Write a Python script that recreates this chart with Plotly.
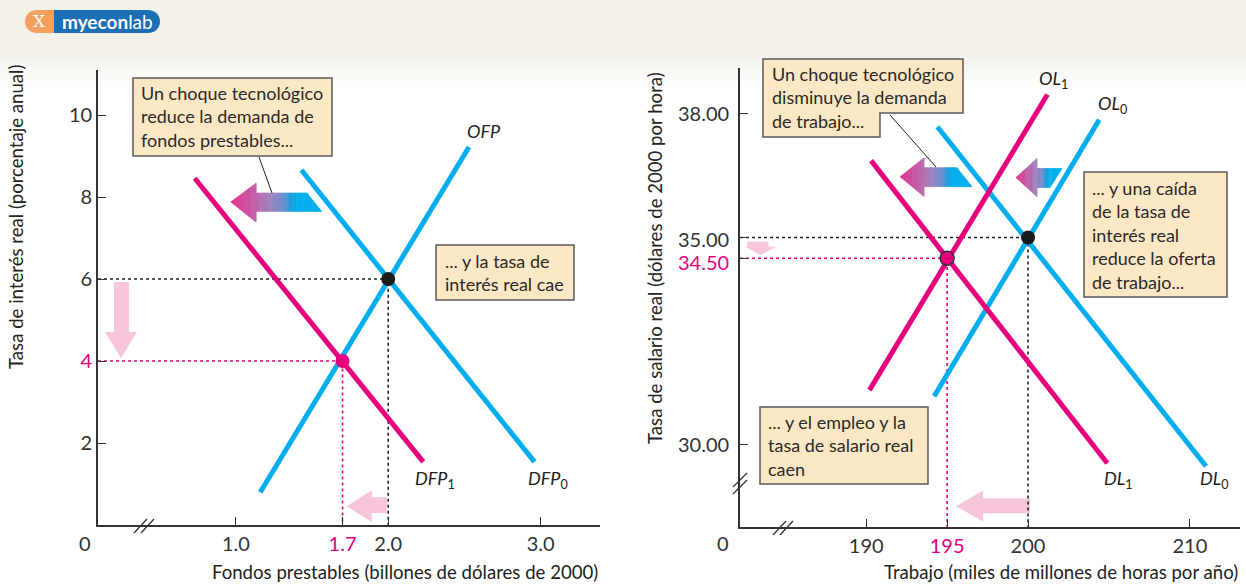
import plotly.graph_objects as go

W, H = 1246, 585
PINK = '#e6007e'
CYAN = '#00aeef'
PALE = '#f7c6dc'
INK = '#333333'
BOXFILL = '#fde8c5'
BOXLINE = '#5a5a5a'
FONT = 'Lato'

# ---------------- data: loanable funds market (left) ----------------
dfp0_x = [1.43, 2.96]; dfp0_y = [8.66, 1.54]
dfp1_x = [0.73, 2.23]; dfp1_y = [8.46, 1.54]
ofp_x = [1.16, 2.53];  ofp_y = [0.80, 9.22]
eq0_left = (2.0, 6.0)
eq1_left = (1.7, 4.0)
left_xtick_vals = [1.0, 1.7, 2.0, 3.0]
left_xtick_text = ['1.0', '1.7', '2.0', '3.0']
left_ytick_vals = [2, 4, 6, 8, 10]
left_ytick_text = ['2', '4', '6', '8', '10']
left_xrange = [0.095, 3.39]
left_yrange = [0, 11.1]

# ---------------- data: labour market (right) ----------------
dl0_x = [194.4, 211.0]; dl0_y = [37.68, 29.47]
dl1_x = [190.3, 204.9]; dl1_y = [36.86, 29.54]
ol0_x = [194.2, 204.4]; ol0_y = [31.16, 37.85]
ol1_x = [190.2, 201.2]; ol1_y = [31.31, 38.46]
eq0_right = (200, 35.0)
eq1_right = (195, 34.5)
right_xtick_vals = [190, 195, 200, 210]
right_xtick_text = ['190', '195', '200', '210']
right_ytick_vals = [30, 34.5, 35, 38]
right_ytick_text = ['30.00', '34.50', '35.00', '38.00']
right_xrange = [182.2, 213.1]
right_yrange = [28.0, 39.1]


def px(x):
    return x / W


def py(y):
    return 1 - y / H


def pink_txt(s):
    return "<span style='color:%s'>%s</span>" % (PINK, s)


fig = go.Figure()


def line(xs, ys, color, ax, width=5, dash=None):
    fig.add_trace(go.Scatter(x=xs, y=ys, mode='lines', xaxis=ax[0], yaxis=ax[1],
                             line=dict(color=color, width=width, dash=dash),
                             hoverinfo='skip', showlegend=False))


L = ('x', 'y')
R = ('x2', 'y2')

# dotted guide lines
line([left_xrange[0], eq0_left[0], eq0_left[0]], [eq0_left[1], eq0_left[1], left_yrange[0]], '#222', L, 1.6, 'dot')
line([left_xrange[0], eq1_left[0], eq1_left[0]], [eq1_left[1], eq1_left[1], left_yrange[0]], PINK, L, 1.6, 'dot')
line([right_xrange[0], eq0_right[0], eq0_right[0]], [eq0_right[1], eq0_right[1], right_yrange[0]], '#222', R, 1.6, 'dot')
line([right_xrange[0], eq1_right[0], eq1_right[0]], [eq1_right[1], eq1_right[1], right_yrange[0]], PINK, R, 1.6, 'dot')

# curves
line(dfp0_x, dfp0_y, CYAN, L)
line(ofp_x, ofp_y, CYAN, L)
line(dfp1_x, dfp1_y, PINK, L)
line(dl0_x, dl0_y, CYAN, R)
line(ol0_x, ol0_y, CYAN, R)
line(dl1_x, dl1_y, PINK, R)
line(ol1_x, ol1_y, PINK, R)


# equilibrium points
def point(p, color, ax, outline=None):
    fig.add_trace(go.Scatter(x=[p[0]], y=[p[1]], mode='markers', xaxis=ax[0], yaxis=ax[1],
                             marker=dict(size=14, color=color,
                                         line=dict(color=outline or color, width=1.5 if outline else 0)),
                             hoverinfo='skip', showlegend=False))


point(eq0_left, '#1a1a1a', L)
point(eq1_left, PINK, L)
point(eq0_right, '#1a1a1a', R)
point(eq1_right, PINK, R, outline='#333333')

shapes = []
annotations = []

# ---------- header band and logo ----------
for i in range(12):
    y0 = 55 + i * 2.5
    shapes.append(dict(type='rect', xref='paper', yref='paper', x0=0, x1=1,
                       y0=py(y0 + 2.5), y1=py(y0), fillcolor='#f3f1ea',
                       opacity=1 - i / 12, line=dict(width=0), layer='below'))
shapes.append(dict(type='rect', xref='paper', yref='paper', x0=0, x1=1, y0=py(55), y1=1,
                   fillcolor='#f3f1ea', line=dict(width=0), layer='below'))


def pill_path(x0, x1, y0, y1, rl, rr):
    import math
    pts = []
    cy = (y0 + y1) / 2
    r = (y1 - y0) / 2
    if rr:
        for k in range(0, 13):
            a = -math.pi / 2 + math.pi * k / 12
            pts.append((x1 - r + r * math.cos(a), cy + r * math.sin(a)))
    else:
        pts += [(x1, y0), (x1, y1)]
    if rl:
        for k in range(0, 13):
            a = math.pi / 2 + math.pi * k / 12
            pts.append((x0 + r + r * math.cos(a), cy + r * math.sin(a)))
    else:
        pts += [(x0, y1), (x0, y0)]
    return 'M ' + ' L '.join('%f,%f' % (px(a), py(b)) for a, b in pts) + ' Z'


shapes.append(dict(type='path', xref='paper', yref='paper', path=pill_path(25, 55, 10, 33, True, False),
                   fillcolor='#f5a05c', line=dict(width=0)))
shapes.append(dict(type='path', xref='paper', yref='paper', path=pill_path(54, 160, 10, 33, False, True),
                   fillcolor='#1b6fb5', line=dict(width=0)))
annotations.append(dict(xref='paper', yref='paper', x=px(39), y=py(21.5), text='X', showarrow=False,
                        font=dict(family='DejaVu Serif', size=17, color='white'), xanchor='center', yanchor='middle'))
annotations.append(dict(xref='paper', yref='paper', x=px(107), y=py(21.5),
                        text='<b>myecon</b>lab', showarrow=False,
                        font=dict(family=FONT, size=19, color='white'), xanchor='center', yanchor='middle'))


# ---------- arrows ----------
def clip(poly, a, keep_greater):
    out = []
    n = len(poly)
    for i in range(n):
        p, q = poly[i], poly[(i + 1) % n]
        pin = p[0] >= a if keep_greater else p[0] <= a
        qin = q[0] >= a if keep_greater else q[0] <= a
        if pin:
            out.append(p)
        if pin != qin:
            t = (a - p[0]) / (q[0] - p[0])
            out.append((a, p[1] + t * (q[1] - p[1])))
    return out


STOPS = [(0.0, (228, 48, 140)), (0.27, (192, 96, 168)), (0.45, (157, 133, 192)),
         (0.58, (110, 140, 205)), (0.66, (30, 158, 218)), (0.74, (0, 174, 239)),
         (1.0, (0, 174, 239))]


def grad_color(t):
    for (t0, c0), (t1, c1) in zip(STOPS[:-1], STOPS[1:]):
        if t <= t1:
            f = (t - t0) / (t1 - t0)
            return 'rgb(%d,%d,%d)' % tuple(round(c0[k] + f * (c1[k] - c0[k])) for k in range(3))
    return 'rgb(0,174,239)'


def arrow_poly(tip, head_x, head_top, head_bot, shaft_top, shaft_bot, tail_top_x, tail_bot_x):
    return [tip, (head_x, head_top), (head_x, shaft_top), (tail_top_x, shaft_top),
            (tail_bot_x, shaft_bot), (head_x, shaft_bot), (head_x, head_bot)]


def to_path(poly):
    return 'M ' + ' L '.join('%f,%f' % p for p in poly) + ' Z'


def gradient_arrow(poly, xref, yref, n=40):
    xs = [p[0] for p in poly]
    lo, hi = min(xs), max(xs)
    for i in range(n):
        a = lo + (hi - lo) * i / n
        b = lo + (hi - lo) * (i + 1) / n
        piece = clip(clip(poly, a, True), b, False)
        if len(piece) < 3:
            continue
        col = grad_color((i + 0.5) / n)
        shapes.append(dict(type='path', xref=xref, yref=yref, path=to_path(piece),
                           fillcolor=col, line=dict(color=col, width=0.6), layer='below'))


def pale_arrow(poly, xref, yref):
    shapes.append(dict(type='path', xref=xref, yref=yref, path=to_path(poly),
                       fillcolor=PALE, line=dict(width=0), layer='below'))


# left panel arrows
gradient_arrow(arrow_poly((0.967, 7.88), 1.132, 8.34, 7.39, 8.10, 7.65, 1.466, 1.564), 'x', 'y')
pale_arrow([(0.20, 5.93), (0.298, 5.93), (0.298, 4.71), (0.351, 4.71), (0.246, 4.07),
            (0.141, 4.71), (0.20, 4.71)], 'x', 'y')
pale_arrow(arrow_poly((1.728, 0.46), 1.892, 0.85, 0.07, 0.68, 0.29, 1.99, 1.99), 'x', 'y')

# right panel arrows
gradient_arrow(arrow_poly((192.10, 36.47), 193.58, 36.93, 35.99, 36.69, 36.23, 195.6, 196.54), 'x2', 'y2')
gradient_arrow(arrow_poly((199.26, 36.45), 200.55, 36.91, 35.99, 36.67, 36.21, 202.10, 201.36), 'x2', 'y2')
pale_arrow([(182.65, 34.90), (183.95, 34.90), (183.95, 34.78), (184.44, 34.78), (183.46, 34.58),
            (182.53, 34.78), (182.65, 34.78)], 'x2', 'y2')
pale_arrow(arrow_poly((195.56, 28.50), 197.22, 28.88, 28.13, 28.69, 28.33, 200.12, 200.12), 'x2', 'y2')


# ---------- callout boxes ----------
def box(pts_px, text, tx, ty_center, pointer=None):
    path = 'M ' + ' L '.join('%f,%f' % (px(a), py(b)) for a, b in pts_px) + ' Z'
    shapes.append(dict(type='path', xref='paper', yref='paper', path=path,
                       fillcolor=BOXFILL, line=dict(color=BOXLINE, width=1.5)))
    annotations.append(dict(xref='paper', yref='paper', x=px(tx), y=py(ty_center), text=text,
                            showarrow=False, xanchor='left', yanchor='middle', align='left',
                            font=dict(family=FONT, size=18, color='#2a2a2a')))
    if pointer:
        (x0, y0), (x1, y1) = pointer
        shapes.append(dict(type='line', xref='paper', yref='paper', x0=px(x0), y0=py(y0),
                           x1=px(x1), y1=py(y1), line=dict(color='#222', width=1)))


box([(133, 78), (332, 78), (332, 156), (133, 156)],
    'Un choque tecnológico<br>reduce la demanda de<br>fondos prestables...', 139, 117,
    pointer=((259, 157), (272, 193)))
box([(436, 245), (574, 245), (574, 300), (436, 300)],
    '... y la tasa de<br>interés real cae', 443, 272.5)
box([(763, 59), (963, 59), (963, 113), (880, 113), (880, 137), (763, 137)],
    'Un choque tecnológico<br>disminuye la demanda<br>de trabajo...', 770, 98,
    pointer=((890, 115), (936, 167)))
box([(1084, 172), (1227, 172), (1227, 297), (1084, 297)],
    '... y una caída<br>de la tasa de<br>interés real<br>reduce la oferta<br>de trabajo...', 1090, 234.5)
box([(760, 407), (928, 407), (928, 484), (760, 484)],
    '... y el empleo y la<br>tasa de salario real<br>caen', 766, 445.5)


# ---------- axis breaks ----------
def slashes(pairs):
    for (x0, y0, x1, y1) in pairs:
        shapes.append(dict(type='line', xref='paper', yref='paper', x0=px(x0), y0=py(y0),
                           x1=px(x1), y1=py(y1), line=dict(color=INK, width=1.3)))


slashes([(134, 533, 147, 519), (141, 533, 154, 519)])
slashes([(773, 535, 786, 521), (780, 535, 793, 521)])
slashes([(733, 487, 747, 473), (733, 494, 747, 480)])


# ---------- curve labels ----------
def label(x, y, text, xref, yref):
    annotations.append(dict(xref=xref, yref=yref, x=x, y=y, text=text, showarrow=False,
                            font=dict(family=FONT, size=18, color='#222'),
                            xanchor='center', yanchor='middle'))


label(2.63, 9.6, '<i>OFP</i>', 'x', 'y')
label(2.305, 1.12, '<i>DFP</i><sub>1</sub>', 'x', 'y')
label(3.046, 1.12, '<i>DFP</i><sub>0</sub>', 'x', 'y')
label(201.6, 38.82, '<i>OL</i><sub>1</sub>', 'x2', 'y2')
label(205.2, 38.22, '<i>OL</i><sub>0</sub>', 'x2', 'y2')
label(205.6, 29.15, '<i>DL</i><sub>1</sub>', 'x2', 'y2')
label(211.5, 29.15, '<i>DL</i><sub>0</sub>', 'x2', 'y2')

# right y tick labels (placed as text so the close 34.50 / 35.00 pair does not collide)
label_shift = {30: 0, 34.5: -4, 35: -1, 38: 0}
for v, t in zip(right_ytick_vals, right_ytick_text):
    annotations.append(dict(xref='paper', yref='y2', x=px(731), y=v, yshift=label_shift[v],
                            text=t, showarrow=False, xanchor='right', yanchor='middle',
                            font=dict(family=FONT, size=20, color=PINK if v == eq1_right[1] else INK)))

# origin zeros
for xx in (85, 723):
    annotations.append(dict(xref='paper', yref='paper', x=px(xx), y=py(543), text='0', showarrow=False,
                            font=dict(family=FONT, size=20, color=INK), xanchor='center', yanchor='middle'))

# axis titles
TITLE_FONT = dict(family=FONT, size=18.6, color='#222')
annotations.append(dict(xref='paper', yref='paper', x=px(600), y=py(572),
                        text='Fondos prestables (billones de dólares de 2000)', showarrow=False,
                        xanchor='right', yanchor='middle', font=TITLE_FONT))
annotations.append(dict(xref='paper', yref='paper', x=px(1240), y=py(572),
                        text='Trabajo (miles de millones de horas por año)', showarrow=False,
                        xanchor='right', yanchor='middle', font=TITLE_FONT))
annotations.append(dict(xref='paper', yref='paper', x=px(16), y=py(217),
                        text='Tasa de interés real (porcentaje anual)', showarrow=False, textangle=-90,
                        xanchor='center', yanchor='middle', font=TITLE_FONT))
annotations.append(dict(xref='paper', yref='paper', x=px(655), y=py(258),
                        text='Tasa de salario real (dólares de 2000 por hora)', showarrow=False, textangle=-90,
                        xanchor='center', yanchor='middle', font=TITLE_FONT))

axis_common = dict(showline=True, linecolor=INK, linewidth=1.6, ticks='inside', ticklen=8,
                   tickcolor=INK, tickwidth=1.3, showgrid=False, zeroline=False, fixedrange=True,
                   tickfont=dict(family=FONT, size=20, color=INK))

fig.update_layout(
    width=W, height=H,
    margin=dict(l=0, r=0, t=0, b=0),
    paper_bgcolor='white', plot_bgcolor='rgba(0,0,0,0)',
    showlegend=False,
    xaxis=dict(domain=[px(98), px(600)], range=left_xrange, anchor='y',
               tickvals=left_xtick_vals,
               ticktext=[pink_txt(t) if v == eq1_left[0] else t for v, t in zip(left_xtick_vals, left_xtick_text)],
               **axis_common),
    yaxis=dict(domain=[py(525), py(70)], range=left_yrange, anchor='x',
               tickvals=left_ytick_vals,
               ticktext=[pink_txt(t) if v == eq1_left[1] else t for v, t in zip(left_ytick_vals, left_ytick_text)],
               **axis_common),
    xaxis2=dict(domain=[px(740), px(1240)], range=right_xrange, anchor='y2',
                tickvals=right_xtick_vals,
                ticktext=[pink_txt(t) if v == eq1_right[0] else t for v, t in zip(right_xtick_vals, right_xtick_text)],
                **axis_common),
    yaxis2=dict(domain=[py(527), py(68)], range=right_yrange, anchor='x2',
                tickvals=right_ytick_vals, showticklabels=False,
                **axis_common),
    shapes=shapes,
    annotations=annotations,
    font=dict(family=FONT),
)

fig.write_html('out.html', config={'displayModeBar': False},
               post_script="document.body.style.margin='0';document.body.style.overflow='hidden';")
